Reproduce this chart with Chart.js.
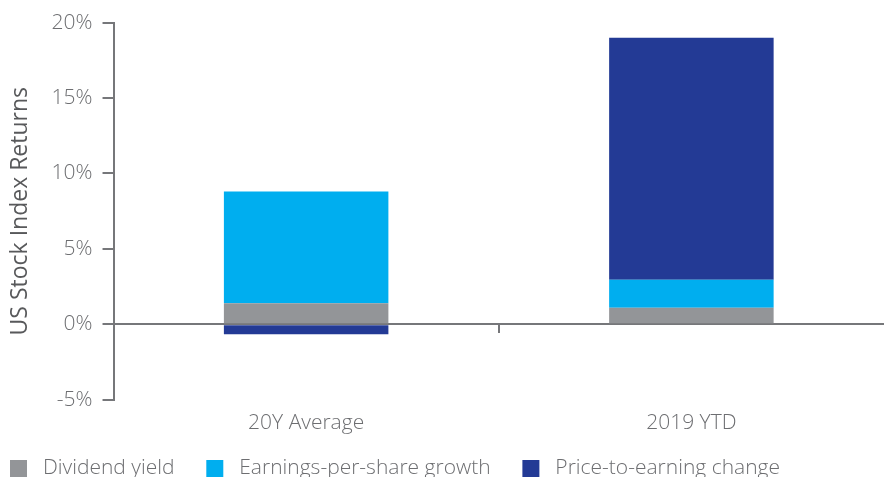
<!DOCTYPE html>
<html lang="en">
<head>
  <meta charset="UTF-8">
  <title>US Stock Index Returns</title>
  <script src="https://cdn.jsdelivr.net/npm/chart.js"></script>
  <style>
    html, body { margin: 0; padding: 0; background: #fff; }
    .wrap { width: 884px; height: 477px; }
  </style>
</head>
<body>
  <div class="wrap"><canvas id="returnsChart" width="884" height="477"></canvas></div>

  <script>
    const categories = ['20Y Average', '2019 YTD'];
    const dividendYield = [1.4, 1.1];
    const epsGrowth = [7.4, 1.85];
    const peChange = [-0.65, 16.05];
    const yTicks = [-5, 0, 5, 10, 15, 20];

    const textGray = '#6d6e71';
    const lineGray = '#76777a';
    const lightFont = { family: 'Open Sans', size: 21, weight: 300 };

    const ctx = document.getElementById('returnsChart').getContext('2d');
    new Chart(ctx, {
      type: 'bar',
      data: {
        labels: categories,
        datasets: [
          { label: 'Dividend yield', data: dividendYield, backgroundColor: '#939598' },
          { label: 'Earnings-per-share growth', data: epsGrowth, backgroundColor: '#00aeef' },
          { label: 'Price-to-earning change', data: peChange, backgroundColor: '#233a95' }
        ]
      },
      options: {
        responsive: false,
        animation: false,
        layout: { padding: { top: 12, right: 0, left: 0, bottom: -12 } },
        datasets: { bar: { barPercentage: 0.427, categoryPercentage: 1 } },
        plugins: {
          tooltip: { enabled: false },
          legend: {
            position: 'bottom',
            align: 'start',
            labels: {
              boxWidth: 17,
              boxHeight: 17,
              padding: 10,
              color: textGray,
              font: lightFont,
              // a leading space and some trailing room, as in the original legend
              generateLabels: chart =>
                Chart.defaults.plugins.legend.labels.generateLabels(chart)
                  .map(item => ({ ...item, text: ' ' + item.text + '    ' }))
            }
          }
        },
        scales: {
          x: {
            stacked: true,
            border: { display: false },
            grid: { display: false },
            ticks: { color: textGray, padding: 3, font: lightFont },
            afterFit: axis => { axis.height += 9; }   // extra room above the legend
          },
          xZero: {
            type: 'category',
            labels: categories,
            position: { y: 0 },
            border: { display: false },
            grid: {
              drawOnChartArea: false,
              offset: true,
              tickLength: 9,
              lineWidth: 2,
              color: c => c.index === 1 ? lineGray : 'rgba(0,0,0,0)'
            },
            ticks: { display: false }
          },
          y: {
            stacked: true,
            min: -5,
            max: 20,
            afterBuildTicks: axis => { axis.ticks = yTicks.map(v => ({ value: v })); },
            border: { display: true, color: lineGray, width: 2 },
            grid: {
              color: c => c.tick && c.tick.value === 0 ? lineGray : 'rgba(0,0,0,0)',
              lineWidth: 2,
              tickColor: lineGray,
              tickLength: 11
            },
            ticks: {
              color: textGray,
              padding: 10,
              font: lightFont,
              callback: v => v + '%'
            },
            title: {
              display: true,
              text: 'US Stock Index Returns',
              color: '#58595b',
              padding: { top: 7, bottom: 7 },
              font: { family: 'Open Sans', size: 23, weight: 500 }
            }
          }
        }
      }
    });
  </script>
</body>
</html>
